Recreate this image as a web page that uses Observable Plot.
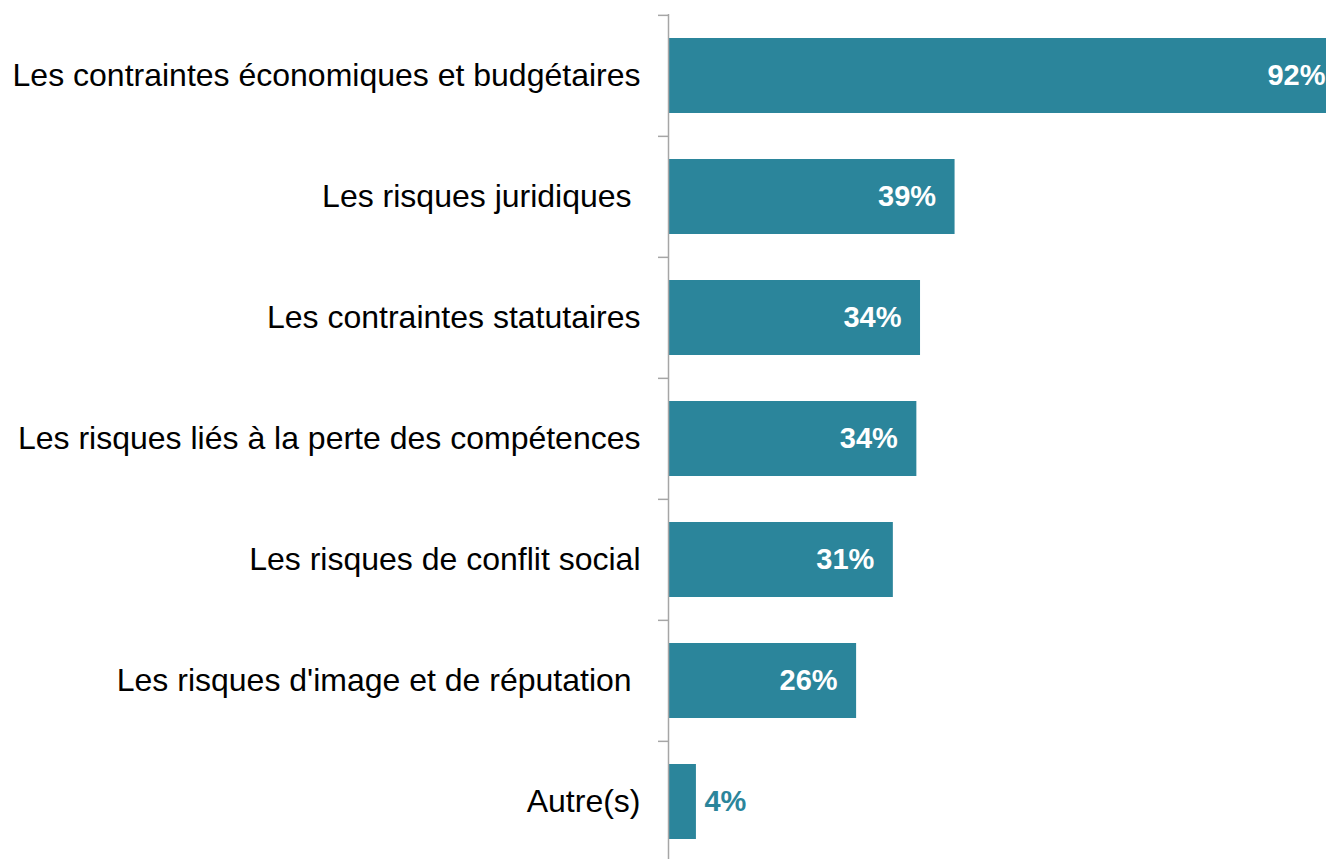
<!DOCTYPE html>
<html>
<head>
<meta charset="utf-8">
<script src="https://cdn.jsdelivr.net/npm/d3@7"></script>
<script src="https://cdn.jsdelivr.net/npm/@observablehq/plot@0.6"></script>
<style>
  html, body { margin: 0; padding: 0; overflow: hidden; background: #fff; }
  #chart svg { max-width: none !important; }
  #chart svg text { white-space: pre; }
</style>
</head>
<body>
<div id="chart"></div>
<script>
const categories = [
  "Les contraintes économiques et budgétaires",
  "Les risques juridiques ",
  "Les contraintes statutaires",
  "Les risques liés à la perte des compétences",
  "Les risques de conflit social",
  "Les risques d'image et de réputation ",
  "Autre(s)"
];
const values = [92, 39, 34.3, 33.8, 30.6, 25.6, 3.8];
const valueLabels = ["92%", "39%", "34%", "34%", "31%", "26%", "4%"];

const data = categories.map((c, i) => ({category: c, value: values[i], label: valueLabels[i]}));

const color = "#2b859b";
const width = 1344, height = 863, marginTop = 14, marginBottom = 0, marginLeft = 668;
const step = (height - marginTop - marginBottom) / categories.length;

const chart = Plot.plot({
  width, height, marginTop, marginBottom, marginLeft, marginRight: 0,
  style: {fontFamily: "'Liberation Sans', Arial, sans-serif", background: "#fff", maxWidth: "none"},
  x: {domain: [0, 92], axis: null},
  y: {domain: categories, paddingInner: 0.38, paddingOuter: 0.19, label: null},
  marks: [
    Plot.barX(data, {y: "category", x: "value", fill: color}),
    Plot.axisY({tickSize: 10, text: null, stroke: "#a6a6a6", strokeWidth: 1.5, dy: -step / 2}),
    Plot.axisY({tickSize: 0, tickPadding: 28, fontSize: 32, fill: "#000", label: null}),
    Plot.ruleX([0], {stroke: "#a6a6a6", strokeWidth: 1.5}),
    Plot.text(data.filter(d => d.value > 10), {y: "category", x: "value", text: "label", textAnchor: "end", dx: -19, fill: "#fff", fontWeight: "bold", fontSize: 29}),
    Plot.text(data.filter(d => d.value <= 10), {y: "category", x: "value", text: "label", textAnchor: "start", dx: 8, fill: color, fontWeight: "bold", fontSize: 29})
  ]
});
document.getElementById("chart").appendChild(chart);
</script>
</body>
</html>
